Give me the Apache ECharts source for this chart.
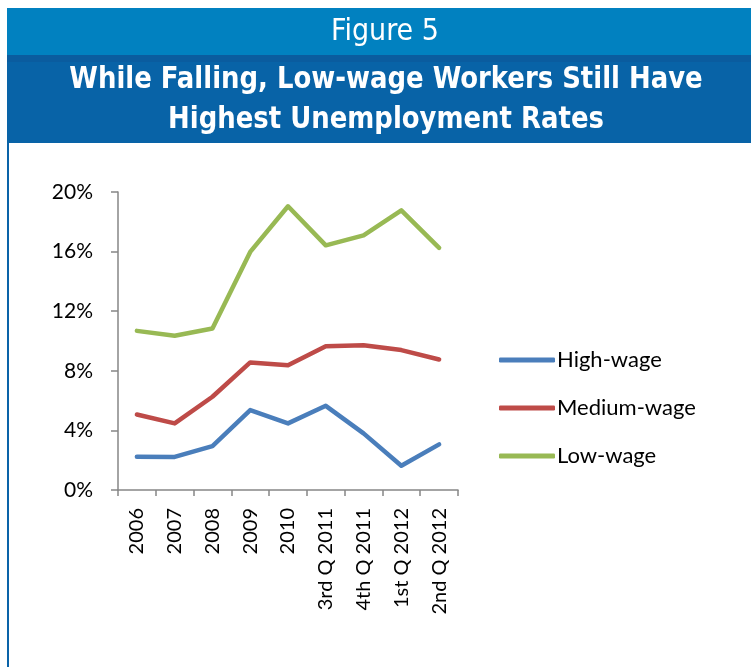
<!DOCTYPE html>
<html>
<head>
<meta charset="utf-8">
<script src="https://cdn.jsdelivr.net/npm/echarts@6/dist/echarts.min.js"></script>
<style>
  html, body { margin: 0; padding: 0; background: #fff; }
  #chart { width: 751px; height: 667px; }
</style>
</head>
<body>
<div id="chart"></div>
<script>
// Unemployment rate (%) by wage group
const periods = ['2006', '2007', '2008', '2009', '2010', '3rd Q 2011', '4th Q 2011', '1st Q 2012', '2nd Q 2012'];
const highWage = [2.23, 2.22, 2.95, 5.36, 4.47, 5.65, 3.80, 1.63, 3.06];
const mediumWage = [5.07, 4.47, 6.26, 8.56, 8.38, 9.65, 9.72, 9.39, 8.76];
const lowWage = [10.68, 10.35, 10.84, 15.98, 19.04, 16.42, 17.09, 18.77, 16.25];
const seriesNames = ['High-wage', 'Medium-wage', 'Low-wage'];
const seriesColors = ['#4a7ebb', '#be4b48', '#98b954'];

const bodyFont = 'Lato, "Liberation Sans", sans-serif';
const headFont = '"Liberation Sans Narrow", "DejaVu Sans Condensed", "Liberation Sans", sans-serif';

const chart = echarts.init(document.getElementById('chart'), null, { renderer: 'canvas' });

function lineSeries(name, data, color) {
  return {
    name: name,
    type: 'line',
    data: data,
    symbol: 'none',
    smooth: false,
    lineStyle: { color: color, width: 4.5, cap: 'round', join: 'round' },
    itemStyle: { color: color }
  };
}

chart.setOption({
  animation: false,
  backgroundColor: '#ffffff',
  graphic: [
    // header band
    { type: 'rect', shape: { x: 7, y: 8, width: 744, height: 47 }, style: { fill: '#0181c0' }, z: 0 },
    // title band
    { type: 'rect', shape: { x: 7, y: 55, width: 744, height: 88 }, style: { fill: '#0863a7' }, z: 0 },
    { type: 'rect', shape: { x: 7, y: 55, width: 744, height: 7 }, style: { fill: '#0a5c9f' }, z: 0 },
    // left frame border
    { type: 'rect', shape: { x: 7, y: 143, width: 2, height: 524 }, style: { fill: '#0a63a8' }, z: 0 },
    {
      type: 'text', z: 5, x: 385, y: 32,
      style: { text: 'Figure 5', fill: '#ffffff', font: '30px ' + headFont, align: 'center', verticalAlign: 'middle' }
    },
    {
      type: 'text', z: 5, x: 386, y: 80, scaleX: 0.93,
      style: { text: 'While Falling, Low-wage Workers Still Have', fill: '#ffffff', font: 'bold 31px ' + headFont, align: 'center', verticalAlign: 'middle' }
    },
    {
      type: 'text', z: 5, x: 386, y: 120, scaleX: 0.93,
      style: { text: 'Highest Unemployment Rates', fill: '#ffffff', font: 'bold 31px ' + headFont, align: 'center', verticalAlign: 'middle' }
    }
  ],
  grid: { left: 118, top: 192, width: 340, height: 298, containLabel: false },
  legend: {
    orient: 'vertical',
    left: 494,
    top: 344,
    icon: 'roundRect',
    itemWidth: 56,
    itemHeight: 5,
    itemGap: 26,
    data: seriesNames.map((n, i) => ({ name: n, itemStyle: { color: seriesColors[i] } })),
    textStyle: { fontFamily: bodyFont, fontSize: 22, color: '#000', lineHeight: 22, padding: [0, 0, 0, -3] }
  },
  xAxis: {
    type: 'category',
    data: periods,
    boundaryGap: true,
    axisLine: { lineStyle: { color: '#868686', width: 1.5 } },
    axisTick: { show: true, length: 6, alignWithLabel: false, lineStyle: { color: '#868686', width: 1.5 } },
    axisLabel: { rotate: 90, margin: 18, fontFamily: bodyFont, fontSize: 20, color: '#000' },
    splitLine: { show: false }
  },
  yAxis: {
    type: 'value',
    min: 0,
    max: 20,
    interval: 4,
    axisLine: { show: true, lineStyle: { color: '#868686', width: 1.5 } },
    axisTick: { show: true, length: 7, lineStyle: { color: '#868686', width: 1.5 } },
    axisLabel: { formatter: '{value}%', margin: 25, fontFamily: bodyFont, fontSize: 21, color: '#000' },
    splitLine: { show: false }
  },
  series: [
    lineSeries(seriesNames[0], highWage, seriesColors[0]),
    lineSeries(seriesNames[1], mediumWage, seriesColors[1]),
    lineSeries(seriesNames[2], lowWage, seriesColors[2])
  ]
});
</script>
</body>
</html>
